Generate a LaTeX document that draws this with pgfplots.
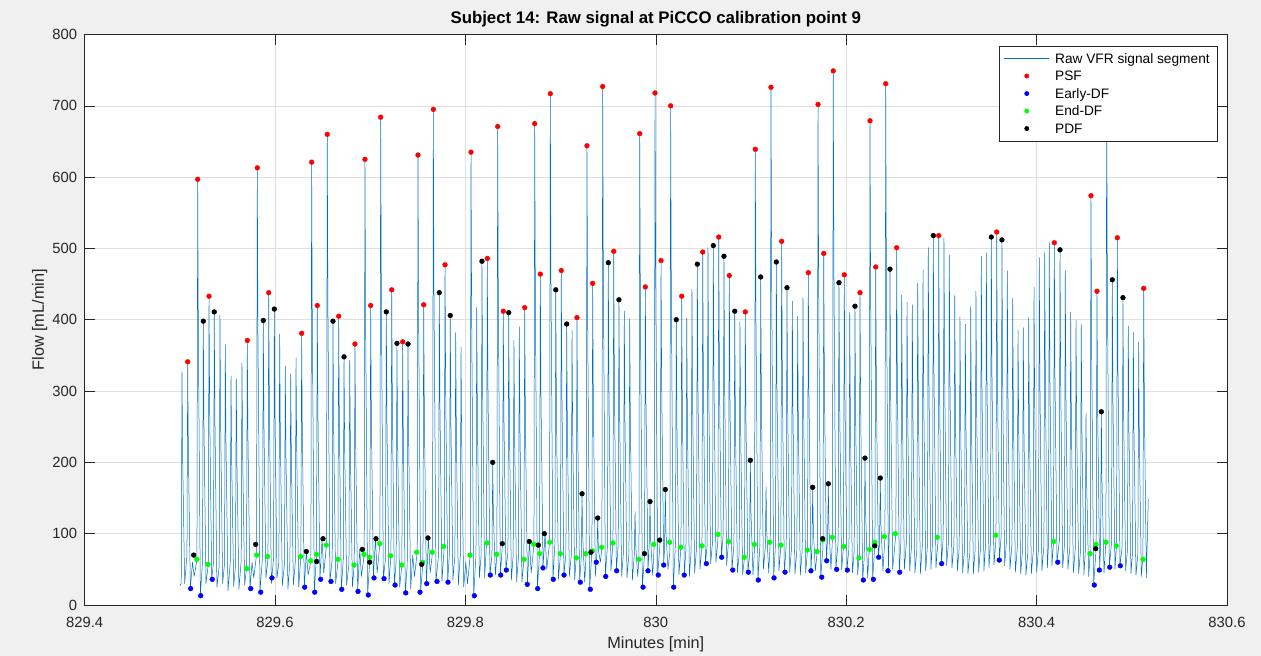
\documentclass[border=0pt]{standalone}
\usepackage{pgfplots}
\pgfplotsset{compat=1.18}
\usepackage{fontspec}
\setmainfont{Liberation Sans}
\definecolor{figbg}{HTML}{F0F0F0}
\definecolor{axcol}{HTML}{262626}
\definecolor{gridcol}{HTML}{DFDFDF}
\definecolor{mblue}{HTML}{0072BD}
\begin{document}
\begin{tikzpicture}
\fill[figbg] (-84.6bp,-51bp) rectangle (1176.4bp,605bp);
\begin{axis}[
  at={(0,0)}, anchor=south west,
  scale only axis, width=1142.4bp, height=570.5bp,
  xmin=829.4, xmax=830.6, ymin=0, ymax=800,
  xtick={829.4,829.6,829.8,830,830.2,830.4,830.6},
  xticklabels={829.4,829.6,829.8,830,830.2,830.4,830.6},
  ytick={0,100,200,300,400,500,600,700,800},
  yticklabels={0,100,200,300,400,500,600,700,800},
  tick align=inside, tick pos=both, major tick length=10bp,
  every tick/.style={axcol, line width=0.6bp},
  axis line style={axcol, line width=0.8bp},
  grid=major, major grid style={gridcol, line width=0.6bp},
  axis background/.style={fill=white},
  /pgf/number format/assume math mode=true,
  ticklabel style={font=\fontsize{14.8bp}{17bp}\selectfont, text=axcol},
  xticklabel style={anchor=north, inner sep=0pt, yshift=-11.7bp},
  yticklabel style={anchor=east, inner sep=0pt, xshift=-7.3bp},
  title={Subject 14: Raw signal at PiCCO calibration point 9},
  title style={font=\bfseries\fontsize{16.8bp}{19bp}\selectfont, at={(axis description cs:0.5,1.0096)}, anchor=base},
  xlabel={Minutes [min]},
  xlabel style={font=\fontsize{16.3bp}{19bp}\selectfont, text=axcol, at={(axis description cs:0.5,-0.0684)}, anchor=center},
  ylabel={Flow [mL/min]},
  ylabel style={font=\fontsize{16.3bp}{19bp}\selectfont, text=axcol, at={(axis description cs:-0.0394,0.5)}, anchor=center},
  legend cell align=left,
  legend style={at={(axis description cs:0.99212,0.97984)}, anchor=north east,
    draw=axcol, line width=0.6bp, fill=white,
    inner xsep=4.5bp, inner ysep=3.5bp, row sep=0bp,
    font=\fontsize{13.7bp}{16bp}\selectfont,
    nodes={inner xsep=3.5bp, inner ysep=0bp, text height=13.5bp, text depth=4bp, anchor=west},
    /tikz/every odd column/.append style={column sep=2bp}},
]
\addplot[mblue, line width=0.5bp, line join=round, mark=none,
  legend image code/.code={\draw[mblue, line width=0.8bp] (0bp,0bp) -- (45bp,0bp);}]
coordinates {
(829.5000,27) (829.5015,30)
(829.5023,327) (829.5030,206) (829.5051,30)
(829.5075,70) (829.5083,341) (829.5090,215) (829.5111,23) (829.5133,60) (829.5151,40)
(829.5180,64) (829.5188,597) (829.5195,376) (829.5216,13)
(829.5239,62) (829.5247,398) (829.5254,251) (829.5275,30)
(829.5299,57) (829.5307,433) (829.5314,273) (829.5335,36)
(829.5354,60) (829.5362,411) (829.5369,259) (829.5390,25)
(829.5414,55) (829.5422,406) (829.5429,256) (829.5450,30)
(829.5470,58) (829.5478,365) (829.5485,230) (829.5506,20)
(829.5530,60) (829.5538,321) (829.5545,202) (829.5566,26)
(829.5585,55) (829.5593,317) (829.5600,200) (829.5621,22)
(829.5645,62) (829.5653,340) (829.5660,214) (829.5681,28)
(829.5701,51) (829.5709,371) (829.5716,234) (829.5737,23) (829.5759,60) (829.5777,38)
(829.5806,70) (829.5814,613) (829.5821,386) (829.5842,18)
(829.5869,68) (829.5877,399) (829.5884,251) (829.5905,38)
(829.5926,65) (829.5934,438) (829.5941,276) (829.5962,30)
(829.5985,66) (829.5993,415) (829.6000,261) (829.6021,38)
(829.6041,60) (829.6049,380) (829.6056,239) (829.6077,27)
(829.6100,58) (829.6108,335) (829.6115,211) (829.6136,22)
(829.6157,62) (829.6165,324) (829.6172,204) (829.6193,28)
(829.6213,60) (829.6221,347) (829.6228,219) (829.6249,25)
(829.6272,68) (829.6280,381) (829.6287,240) (829.6308,25) (829.6330,75) (829.6348,42)
(829.6377,62) (829.6385,621) (829.6392,391) (829.6413,18)
(829.6436,71) (829.6444,420) (829.6451,265) (829.6472,36) (829.6494,93) (829.6512,45)
(829.6541,84) (829.6549,660) (829.6556,416) (829.6577,33)
(829.6601,64) (829.6609,398) (829.6616,251) (829.6637,30)
(829.6661,60) (829.6669,405) (829.6676,255) (829.6697,22)
(829.6717,64) (829.6725,348) (829.6732,219) (829.6753,28)
(829.6777,58) (829.6785,343) (829.6792,216) (829.6813,25)
(829.6832,56) (829.6840,366) (829.6847,231) (829.6868,19) (829.6890,78) (829.6908,40)
(829.6937,71) (829.6945,625) (829.6952,394) (829.6973,14)
(829.6997,67) (829.7005,420) (829.7012,265) (829.7033,38) (829.7055,93) (829.7073,45)
(829.7102,86) (829.7110,684) (829.7117,431) (829.7138,37)
(829.7161,65) (829.7169,411) (829.7176,259) (829.7197,30)
(829.7218,69) (829.7226,442) (829.7233,278) (829.7254,28)
(829.7273,62) (829.7281,367) (829.7288,231) (829.7309,25)
(829.7333,56) (829.7341,369) (829.7348,232) (829.7369,17)
(829.7389,56) (829.7397,366) (829.7404,231) (829.7425,22) (829.7447,70) (829.7465,40)
(829.7494,74) (829.7502,631) (829.7509,398) (829.7530,19)
(829.7554,60) (829.7562,421) (829.7569,265) (829.7590,30) (829.7612,94) (829.7630,45)
(829.7655,74) (829.7663,695) (829.7670,438) (829.7691,33)
(829.7718,70) (829.7726,438) (829.7733,276) (829.7754,33)
(829.7778,82) (829.7786,477) (829.7793,301) (829.7814,32)
(829.7833,75) (829.7841,406) (829.7848,256) (829.7869,35)
(829.7890,70) (829.7898,382) (829.7905,241) (829.7926,28)
(829.7946,68) (829.7954,362) (829.7961,228) (829.7982,25) (829.8004,60) (829.8022,30)
(829.8051,70) (829.8059,635) (829.8066,400) (829.8087,13)
(829.8111,70) (829.8119,417) (829.8126,263) (829.8147,38)
(829.8166,72) (829.8174,482) (829.8181,304) (829.8202,38)
(829.8222,87) (829.8230,486) (829.8237,306) (829.8258,42)
(829.8279,70) (829.8287,200) (829.8294,126) (829.8315,42)
(829.8331,71) (829.8339,671) (829.8346,423) (829.8367,42)
(829.8390,86) (829.8398,412) (829.8405,260) (829.8426,49)
(829.8447,75) (829.8455,410) (829.8462,258) (829.8483,35)
(829.8502,70) (829.8510,371) (829.8517,234) (829.8538,32)
(829.8558,68) (829.8566,390) (829.8573,246) (829.8594,32)
(829.8615,64) (829.8623,417) (829.8630,263) (829.8651,29) (829.8673,89) (829.8691,45)
(829.8720,85) (829.8728,675) (829.8735,425) (829.8756,23)
(829.8779,72) (829.8787,464) (829.8794,292) (829.8815,52) (829.8837,100) (829.8855,50)
(829.8884,88) (829.8892,717) (829.8899,452) (829.8920,36)
(829.8941,88) (829.8949,442) (829.8956,278) (829.8977,36)
(829.8999,72) (829.9007,469) (829.9014,295) (829.9035,42)
(829.9056,72) (829.9064,394) (829.9071,248) (829.9092,40)
(829.9112,70) (829.9120,385) (829.9127,243) (829.9148,35)
(829.9164,66) (829.9172,403) (829.9179,254) (829.9200,32)
(829.9217,66) (829.9225,156) (829.9232,98) (829.9253,32)
(829.9269,72) (829.9277,644) (829.9284,406) (829.9305,22)
(829.9329,76) (829.9337,451) (829.9344,284) (829.9365,40)
(829.9382,76) (829.9390,122) (829.9397,77) (829.9418,60)
(829.9434,81) (829.9442,727) (829.9449,458) (829.9470,40)
(829.9493,85) (829.9501,480) (829.9508,302) (829.9529,48)
(829.9550,87) (829.9558,496) (829.9565,312) (829.9586,48)
(829.9605,85) (829.9613,428) (829.9620,270) (829.9641,40)
(829.9661,75) (829.9669,412) (829.9676,260) (829.9697,38)
(829.9718,72) (829.9726,401) (829.9733,253) (829.9754,35)
(829.9774,70) (829.9782,131) (829.9789,83) (829.9810,40)
(829.9823,64) (829.9831,661) (829.9838,416) (829.9859,25)
(829.9882,72) (829.9890,446) (829.9897,281) (829.9918,48)
(829.9931,85) (829.9939,145) (829.9946,91) (829.9967,42)
(829.9984,85) (829.9992,718) (829.9999,452) (830.0020,42)
(830.0047,91) (830.0055,483) (830.0062,304) (830.0083,56)
(830.0092,80) (830.0100,162) (830.0107,102) (830.0128,50)
(830.0148,75) (830.0156,700) (830.0163,441) (830.0184,25)
(830.0207,88) (830.0215,400) (830.0222,252) (830.0243,42)
(830.0264,81) (830.0272,433) (830.0279,273) (830.0300,42)
(830.0317,80) (830.0325,402) (830.0332,253) (830.0353,40)
(830.0372,78) (830.0380,443) (830.0387,279) (830.0408,45)
(830.0428,80) (830.0436,478) (830.0443,301) (830.0464,50)
(830.0485,83) (830.0493,495) (830.0500,312) (830.0521,58)
(830.0540,85) (830.0548,501) (830.0555,316) (830.0576,58)
(830.0596,88) (830.0604,504) (830.0611,318) (830.0632,60)
(830.0653,92) (830.0661,516) (830.0668,325) (830.0689,67)
(830.0708,99) (830.0716,489) (830.0723,308) (830.0744,55)
(830.0764,89) (830.0772,462) (830.0779,291) (830.0800,49)
(830.0821,85) (830.0829,412) (830.0836,260) (830.0857,45)
(830.0876,72) (830.0884,397) (830.0891,250) (830.0912,42)
(830.0932,67) (830.0940,411) (830.0947,259) (830.0968,46)
(830.0985,70) (830.0993,203) (830.1000,128) (830.1021,42)
(830.1037,80) (830.1045,639) (830.1052,403) (830.1073,35)
(830.1094,85) (830.1102,460) (830.1109,290) (830.1130,50)
(830.1150,80) (830.1158,166) (830.1165,105) (830.1186,45)
(830.1202,88) (830.1210,726) (830.1217,457) (830.1238,38)
(830.1258,88) (830.1266,481) (830.1273,303) (830.1294,48)
(830.1314,84) (830.1322,510) (830.1329,321) (830.1350,46)
(830.1370,84) (830.1378,445) (830.1385,280) (830.1406,46)
(830.1426,80) (830.1434,426) (830.1441,268) (830.1462,44)
(830.1482,78) (830.1490,405) (830.1497,255) (830.1518,42)
(830.1538,77) (830.1546,431) (830.1553,272) (830.1574,45)
(830.1594,78) (830.1602,466) (830.1609,294) (830.1630,48)
(830.1640,77) (830.1648,165) (830.1655,104) (830.1676,48)
(830.1696,75) (830.1704,702) (830.1711,442) (830.1732,39)
(830.1756,80) (830.1764,493) (830.1771,311) (830.1792,62)
(830.1804,93) (830.1812,170) (830.1819,107) (830.1840,50)
(830.1856,95) (830.1864,749) (830.1871,472) (830.1892,50)
(830.1916,90) (830.1924,452) (830.1931,285) (830.1952,49)
(830.1972,82) (830.1980,463) (830.1987,292) (830.2008,49)
(830.2029,80) (830.2037,410) (830.2044,258) (830.2065,45)
(830.2084,75) (830.2092,419) (830.2099,264) (830.2120,42)
(830.2137,70) (830.2145,438) (830.2152,276) (830.2173,35)
(830.2189,66) (830.2197,206) (830.2204,130) (830.2225,38)
(830.2242,78) (830.2250,679) (830.2257,428) (830.2278,36)
(830.2302,88) (830.2310,474) (830.2317,299) (830.2338,67)
(830.2350,85) (830.2358,178) (830.2365,112) (830.2386,48)
(830.2407,96) (830.2415,731) (830.2422,461) (830.2443,48)
(830.2452,96) (830.2460,471) (830.2467,297) (830.2488,50)
(830.2522,100) (830.2530,501) (830.2537,316) (830.2558,46)
(830.2575,90) (830.2583,435) (830.2590,274) (830.2611,50)
(830.2631,85) (830.2639,425) (830.2646,268) (830.2667,48)
(830.2686,82) (830.2694,421) (830.2701,265) (830.2722,45)
(830.2743,80) (830.2751,451) (830.2758,284) (830.2779,44)
(830.2799,82) (830.2807,470) (830.2814,296) (830.2835,48)
(830.2854,85) (830.2862,501) (830.2869,316) (830.2890,50)
(830.2907,88) (830.2915,518) (830.2922,326) (830.2943,52)
(830.2964,90) (830.2972,518) (830.2979,326) (830.3000,58)
(830.3019,95) (830.3027,514) (830.3034,324) (830.3055,55)
(830.3075,90) (830.3083,491) (830.3090,309) (830.3111,52)
(830.3132,85) (830.3140,434) (830.3147,273) (830.3168,48)
(830.3187,80) (830.3195,404) (830.3202,255) (830.3223,45)
(830.3243,78) (830.3251,394) (830.3258,248) (830.3279,44)
(830.3300,76) (830.3308,418) (830.3315,263) (830.3336,44)
(830.3355,78) (830.3363,440) (830.3370,277) (830.3391,46)
(830.3411,80) (830.3419,489) (830.3426,308) (830.3447,48)
(830.3464,85) (830.3472,494) (830.3479,311) (830.3500,52)
(830.3516,90) (830.3524,516) (830.3531,325) (830.3552,56)
(830.3573,92) (830.3581,523) (830.3588,329) (830.3609,63)
(830.3628,98) (830.3636,512) (830.3643,323) (830.3664,55)
(830.3684,90) (830.3692,469) (830.3699,295) (830.3720,50)
(830.3741,85) (830.3749,430) (830.3756,271) (830.3777,46)
(830.3797,80) (830.3805,385) (830.3812,243) (830.3833,44)
(830.3852,76) (830.3860,389) (830.3867,245) (830.3888,42)
(830.3909,75) (830.3917,403) (830.3924,254) (830.3945,44)
(830.3965,76) (830.3973,446) (830.3980,281) (830.4001,46)
(830.4020,80) (830.4028,487) (830.4035,307) (830.4056,48)
(830.4077,84) (830.4085,494) (830.4092,311) (830.4113,52)
(830.4125,86) (830.4133,508) (830.4140,320) (830.4161,55)
(830.4178,88) (830.4186,508) (830.4193,320) (830.4214,60)
(830.4238,89) (830.4246,498) (830.4253,314) (830.4274,52)
(830.4293,85) (830.4301,469) (830.4308,295) (830.4329,50)
(830.4350,82) (830.4358,411) (830.4365,259) (830.4386,45)
(830.4406,78) (830.4414,399) (830.4421,251) (830.4442,44)
(830.4461,76) (830.4469,393) (830.4476,248) (830.4497,42)
(830.4511,74) (830.4519,269) (830.4526,169) (830.4547,40)
(830.4563,72) (830.4571,574) (830.4578,362) (830.4599,28)
(830.4626,80) (830.4634,440) (830.4641,277) (830.4662,49)
(830.4672,80) (830.4680,271) (830.4687,171) (830.4708,45)
(830.4728,88) (830.4736,720) (830.4743,454) (830.4764,53)
(830.4787,88) (830.4795,456) (830.4802,287) (830.4823,50)
(830.4840,85) (830.4848,515) (830.4855,324) (830.4876,55)
(830.4899,83) (830.4907,431) (830.4914,272) (830.4935,48)
(830.4955,78) (830.4963,391) (830.4970,246) (830.4991,44)
(830.5008,75) (830.5016,382) (830.5023,241) (830.5044,42)
(830.5064,72) (830.5072,369) (830.5079,232) (830.5100,40)
(830.5117,70) (830.5125,444) (830.5132,280) (830.5153,38)
(830.5173,148)
};
\addlegendentry{Raw VFR signal segment}
\addplot[only marks, mark=*, mark size=2.4bp, red, mark options={draw=none, fill=red},
  legend image code/.code={\path[draw=none,fill=none] (0bp,0bp) -- (45bp,0bp); \fill[red] (22.5bp,0bp) circle[radius=2.1bp];}]
coordinates {
(829.5083,341) (829.5188,597) (829.5307,433) (829.5709,371) (829.5814,613) (829.5934,438) (829.6280,381) (829.6385,621) (829.6444,420) (829.6549,660) (829.6669,405) (829.6840,366) (829.6945,625) (829.7005,420) (829.7110,684) (829.7226,442) (829.7341,369) (829.7502,631) (829.7562,421) (829.7663,695) (829.7786,477) (829.8059,635) (829.8230,486) (829.8339,671) (829.8398,412) (829.8623,417) (829.8728,675) (829.8787,464) (829.8892,717) (829.9007,469) (829.9172,403) (829.9277,644) (829.9337,451) (829.9442,727) (829.9558,496) (829.9831,661) (829.9890,446) (829.9992,718) (830.0055,483) (830.0156,700) (830.0272,433) (830.0493,495) (830.0661,516) (830.0772,462) (830.0940,411) (830.1045,639) (830.1210,726) (830.1322,510) (830.1602,466) (830.1704,702) (830.1764,493) (830.1864,749) (830.1980,463) (830.2145,438) (830.2250,679) (830.2310,474) (830.2415,731) (830.2530,501) (830.2972,518) (830.3581,523) (830.4186,508) (830.4571,574) (830.4634,440) (830.4848,515) (830.5125,444)
};
\addlegendentry{PSF}
\addplot[only marks, mark=*, mark size=2.4bp, blue, mark options={draw=none, fill=blue},
  legend image code/.code={\path[draw=none,fill=none] (0bp,0bp) -- (45bp,0bp); \fill[blue] (22.5bp,0bp) circle[radius=2.1bp];}]
coordinates {
(829.5114,23) (829.5220,13) (829.5341,36) (829.5745,23) (829.5850,18) (829.5968,38) (829.6312,25) (829.6417,18) (829.6480,36) (829.6588,33) (829.6701,22) (829.6872,19) (829.6980,14) (829.7040,38) (829.7145,37) (829.7261,28) (829.7373,17) (829.7523,18) (829.7594,30) (829.7702,33) (829.7817,32) (829.8094,13) (829.8262,42) (829.8371,42) (829.8430,49) (829.8650,29) (829.8759,23) (829.8815,52) (829.8923,36) (829.9036,42) (829.9207,32) (829.9312,22) (829.9375,60) (829.9474,40) (829.9589,48) (829.9866,25) (829.9918,48) (830.0026,42) (830.0083,56) (830.0188,25) (830.0299,42) (830.0531,58) (830.0692,67) (830.0808,49) (830.0972,46) (830.1077,35) (830.1242,38) (830.1357,46) (830.1630,48) (830.1743,39) (830.1795,62) (830.1900,50) (830.2012,49) (830.2180,35) (830.2285,36) (830.2341,67) (830.2439,48) (830.2562,46) (830.3003,58) (830.3608,63) (830.4222,60) (830.4606,28) (830.4659,49) (830.4768,53) (830.4879,55)
};
\addlegendentry{Early-DF}
\addplot[only marks, mark=*, mark size=2.4bp, green, mark options={draw=none, fill=green},
  legend image code/.code={\path[draw=none,fill=none] (0bp,0bp) -- (45bp,0bp); \fill[green] (22.5bp,0bp) circle[radius=2.1bp];}]
coordinates {
(829.5178,64) (829.5296,57) (829.5703,51) (829.5808,70) (829.5923,68) (829.6270,68) (829.6375,62) (829.6438,71) (829.6539,84) (829.6662,64) (829.6830,56) (829.6935,71) (829.6995,67) (829.7100,86) (829.7215,69) (829.7331,56) (829.7488,74) (829.7552,60) (829.7652,74) (829.7772,82) (829.8048,70) (829.8227,87) (829.8329,71) (829.8616,64) (829.8718,85) (829.8780,72) (829.8886,88) (829.8997,72) (829.9165,66) (829.9264,72) (829.9333,76) (829.9432,81) (829.9550,87) (829.9824,64) (829.9978,85) (830.0146,88) (830.0265,81) (830.0485,83) (830.0653,99) (830.0766,89) (830.0930,67) (830.1035,85) (830.1196,88) (830.1315,84) (830.1592,77) (830.1693,75) (830.1753,91) (830.1854,95) (830.1974,82) (830.2134,66) (830.2243,78) (830.2300,88) (830.2400,96) (830.2516,100) (830.2957,95) (830.3570,98) (830.4180,89) (830.4561,72) (830.4624,85) (830.4729,88) (830.4837,83) (830.5118,64)
};
\addlegendentry{End-DF}
\addplot[only marks, mark=*, mark size=2.4bp, black, mark options={draw=none, fill=black},
  legend image code/.code={\path[draw=none,fill=none] (0bp,0bp) -- (45bp,0bp); \fill[black] (22.5bp,0bp) circle[radius=2.1bp];}]
coordinates {
(829.5247,398) (829.5362,411) (829.5877,399) (829.5993,415) (829.6609,398) (829.6725,348) (829.7169,411) (829.7281,367) (829.7397,366) (829.7726,438) (829.7841,406) (829.8174,482) (829.8287,200) (829.8455,410) (829.8949,442) (829.9064,394) (829.9225,156) (829.9390,122) (829.9501,480) (829.9613,428) (829.9939,145) (830.0100,162) (830.0215,400) (830.0436,478) (830.0604,504) (830.0716,489) (830.0829,412) (830.0993,203) (830.1102,460) (830.1266,481) (830.1378,445) (830.1648,165) (830.1812,170) (830.1924,452) (830.2092,419) (830.2197,206) (830.2358,178) (830.2460,471) (830.2915,518) (830.3524,516) (830.3636,512) (830.4246,498) (830.4680,271) (830.4795,456) (830.4907,431)
(829.5146,70) (829.5797,85) (829.6329,75) (829.6438,61) (829.6504,93) (829.6917,78) (829.6995,60) (829.7061,93) (829.7541,57) (829.7607,94) (829.8388,86) (829.8671,89) (829.8766,84) (829.8829,100) (829.9319,74) (829.9881,72) (830.0041,91) (830.1753,93) (830.2300,83) (830.4621,79)
};
\addlegendentry{PDF}
\end{axis}
\pgfresetboundingbox
\path (-84.6bp,-51bp) rectangle (1176.4bp,605bp);
\end{tikzpicture}
\end{document}
